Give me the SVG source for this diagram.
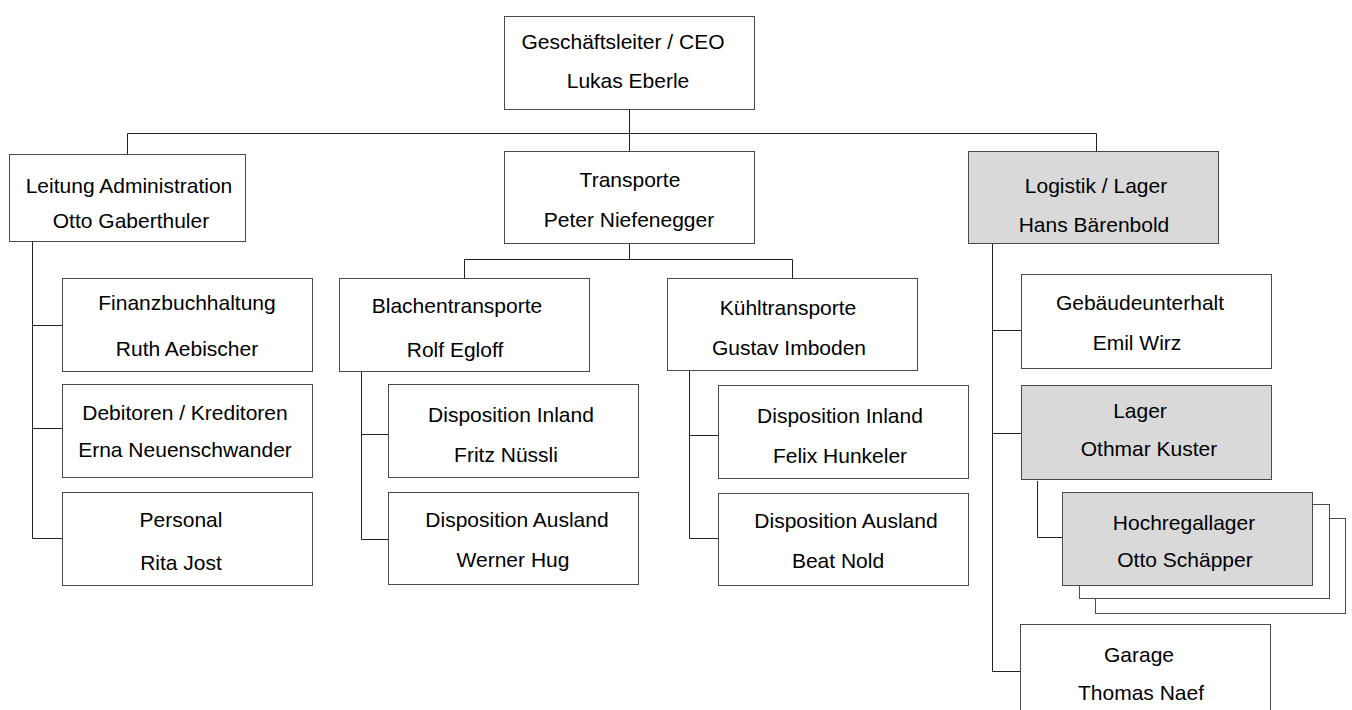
<svg xmlns="http://www.w3.org/2000/svg" width="1352" height="710" viewBox="0 0 1352 710">
<style>
.box{fill:#ffffff;stroke:#4a4a4a;stroke-width:1}
.gray{fill:#d9d9d9}
.t{font-family:"Liberation Sans",Arial,sans-serif;font-size:21px;fill:#000;text-anchor:middle}
.con{fill:none;stroke:#222;stroke-width:1}
</style>
<rect width="1352" height="710" fill="#ffffff"/>
<g id="connectors">
<path class="con" d="M629.5 109.5V151M127.5 133.5H1096.5M127.5 133.5V154M1096.5 133.5V151"/>
<path class="con" d="M32.5 241.5V538.5M32.5 325.5H62M32.5 428.5H62M32.5 538.5H62"/>
<path class="con" d="M629.5 244V259.5M464.5 259.5H792.5M464.5 259.5V278M792.5 259.5V278"/>
<path class="con" d="M361.5 372V539.5M361.5 434.5H388M361.5 539.5H388"/>
<path class="con" d="M689.5 370V538.5M689.5 435.5H718M689.5 538.5H718"/>
<path class="con" d="M992.5 244V671.5M992.5 330.5H1021M992.5 433.5H1021M992.5 671.5H1020"/>
<path class="con" d="M1037.5 481V537.5H1062"/>
</g>
<g id="ceo">
<rect class="box" x="504.5" y="16.5" width="250" height="93"/>
<text class="t" x="623" y="49">Geschäftsleiter / CEO</text>
<text class="t" x="628" y="88">Lukas Eberle</text>
</g>
<g id="admin">
<rect class="box" x="9.5" y="154.5" width="236" height="87"/>
<text class="t" x="129" y="193">Leitung Administration</text>
<text class="t" x="131" y="228">Otto Gaberthuler</text>
</g>
<g id="transporte">
<rect class="box" x="504.5" y="151.5" width="250" height="92"/>
<text class="t" x="630" y="187">Transporte</text>
<text class="t" x="629" y="227">Peter Niefenegger</text>
</g>
<g id="logistik">
<rect class="box gray" x="968.5" y="151.5" width="250" height="92"/>
<text class="t" x="1096" y="193">Logistik / Lager</text>
<text class="t" x="1094" y="232">Hans Bärenbold</text>
</g>
<g id="finanz">
<rect class="box" x="62.5" y="278.5" width="250" height="93"/>
<text class="t" x="187" y="310">Finanzbuchhaltung</text>
<text class="t" x="187" y="356">Ruth Aebischer</text>
</g>
<g id="debitoren">
<rect class="box" x="62.5" y="384.5" width="250" height="93"/>
<text class="t" x="185" y="420">Debitoren / Kreditoren</text>
<text class="t" x="185" y="457">Erna Neuenschwander</text>
</g>
<g id="personal">
<rect class="box" x="62.5" y="492.5" width="250" height="93"/>
<text class="t" x="181" y="527">Personal</text>
<text class="t" x="181" y="570">Rita Jost</text>
</g>
<g id="blachen">
<rect class="box" x="339.5" y="278.5" width="250" height="93"/>
<text class="t" x="457" y="313">Blachentransporte</text>
<text class="t" x="455" y="357">Rolf Egloff</text>
</g>
<g id="blachen-inland">
<rect class="box" x="388.5" y="384.5" width="250" height="93"/>
<text class="t" x="511" y="422">Disposition Inland</text>
<text class="t" x="506" y="462">Fritz Nüssli</text>
</g>
<g id="blachen-ausland">
<rect class="box" x="388.5" y="492.5" width="250" height="92"/>
<text class="t" x="517" y="527">Disposition Ausland</text>
<text class="t" x="513" y="567">Werner Hug</text>
</g>
<g id="kuehl">
<rect class="box" x="667.5" y="278.5" width="250" height="92"/>
<text class="t" x="788" y="315">Kühltransporte</text>
<text class="t" x="789" y="355">Gustav Imboden</text>
</g>
<g id="kuehl-inland">
<rect class="box" x="718.5" y="385.5" width="250" height="93"/>
<text class="t" x="840" y="423">Disposition Inland</text>
<text class="t" x="840" y="463">Felix Hunkeler</text>
</g>
<g id="kuehl-ausland">
<rect class="box" x="718.5" y="493.5" width="250" height="92"/>
<text class="t" x="846" y="528">Disposition Ausland</text>
<text class="t" x="838" y="568">Beat Nold</text>
</g>
<g id="gebaeude">
<rect class="box" x="1021.5" y="274.5" width="250" height="94"/>
<text class="t" x="1140" y="310">Gebäudeunterhalt</text>
<text class="t" x="1137" y="350">Emil Wirz</text>
</g>
<g id="lager">
<rect class="box gray" x="1021.5" y="385.5" width="250" height="94"/>
<text class="t" x="1140" y="418">Lager</text>
<text class="t" x="1149" y="456">Othmar Kuster</text>
</g>
<g id="hochregal">
<rect class="box" x="1095.5" y="518.5" width="250" height="95"/>
<rect class="box" x="1079.5" y="504.5" width="250" height="94"/>
<rect class="box gray" x="1062.5" y="492.5" width="250" height="93"/>
<text class="t" x="1184" y="530">Hochregallager</text>
<text class="t" x="1185" y="567">Otto Schäpper</text>
</g>
<g id="garage">
<rect class="box" x="1020.5" y="624.5" width="250" height="100"/>
<text class="t" x="1139" y="662">Garage</text>
<text class="t" x="1141" y="700">Thomas Naef</text>
</g>
</svg>
